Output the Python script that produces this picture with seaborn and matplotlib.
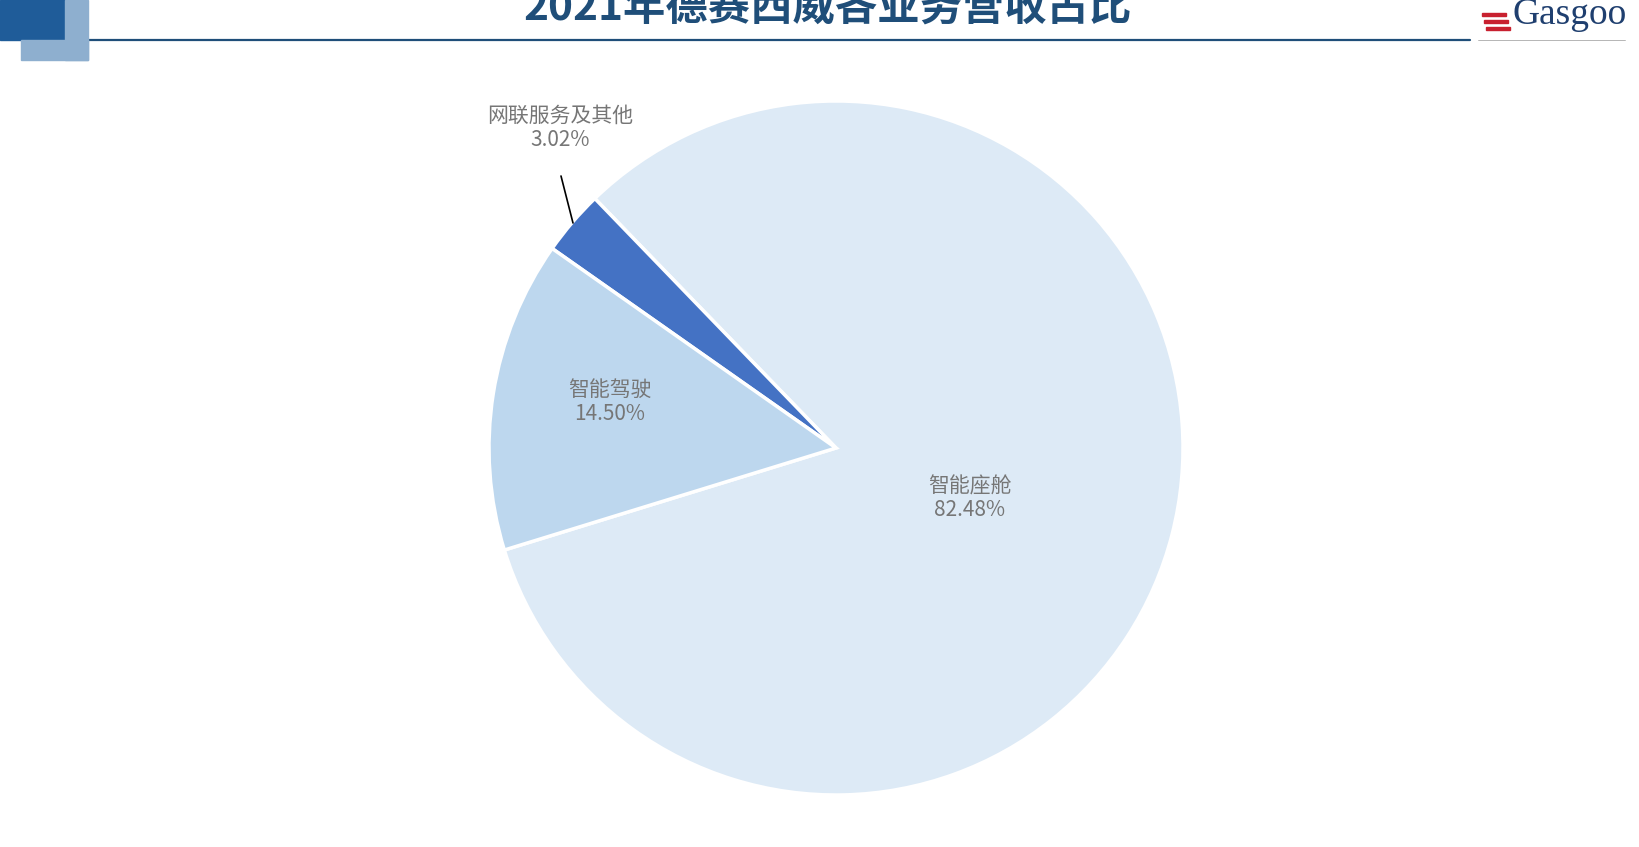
import matplotlib
matplotlib.use("Agg")
import matplotlib.pyplot as plt
from matplotlib.patches import Rectangle
import seaborn as sns
import numpy as np

categories = ["智能座舱", "网联服务及其他", "智能驾驶"]
shares = [82.48, 3.02, 14.50]
colors = ["#DDEAF6", "#4472C4", "#BDD7EE"]
title = "2021年德赛西威各业务营收占比"

sns.set_theme(style="white")
plt.rcParams['font.family'] = ['Noto Sans CJK SC', 'DejaVu Sans']

W, H = 1640, 847
fig = plt.figure(figsize=(W / 100, H / 100), dpi=100)
ax = fig.add_axes([0, 0, 1, 1])

cx, cy, R = 836, 399, 347
wedges, _ = ax.pie(shares, colors=colors, startangle=197.1, counterclock=True,
                   center=(cx, cy), radius=R, frame=True,
                   wedgeprops=dict(edgecolor="white", linewidth=2.5))
ax.set_xlim(0, W)
ax.set_ylim(0, H)
ax.set_aspect("equal")
ax.axis("off")

lab_color = "#767676"
fs = 15
label_pos = {
    "智能座舱": (970, 349),
    "智能驾驶": (610, 445),
    "网联服务及其他": (560, 719),
}
for cat, val in zip(categories, shares):
    x, y = label_pos[cat]
    ax.text(x, y, f"{cat}\n{val:.2f}%", ha="center", va="center",
            fontsize=fs, color=lab_color, linespacing=1.1, fontweight="medium")

# leader line for small slice
ax.plot([561, 573], [H - 176, H - 223], color="black", lw=1.2)

# header decorations
ax.add_patch(Rectangle((0, H - 40), 65, 40, color="#1F5C99", zorder=5, clip_on=False))
ax.add_patch(Rectangle((65, H - 60), 23, 60, color="#8EAFCF", zorder=5, clip_on=False))
ax.add_patch(Rectangle((21, H - 60), 67, 20, color="#8EAFCF", zorder=5, clip_on=False))
ax.plot([88, 1470], [H - 40, H - 40], color="#1F4E79", lw=1.6)
ax.plot([1478, 1625], [H - 40, H - 40], color="#AAAAAA", lw=0.6)

ax.text(828, H - 9, title, ha="center", va="center", fontsize=30.5,
        fontweight="black", color="#1F4E79")

# logo
ax.text(1570, H - 15, "Gasgoo", ha="center", va="center", fontsize=27,
        family="Liberation Serif", color="#1F3F6F", stretch="condensed")
for i, dy in enumerate([6, 13, 20]):
    ax.add_patch(Rectangle((1482 + i * 2, H - 16 - dy + 6), 24, 3.5,
                           color="#C8202F", zorder=6))

fig.savefig("out.png", dpi=100, facecolor="white")
